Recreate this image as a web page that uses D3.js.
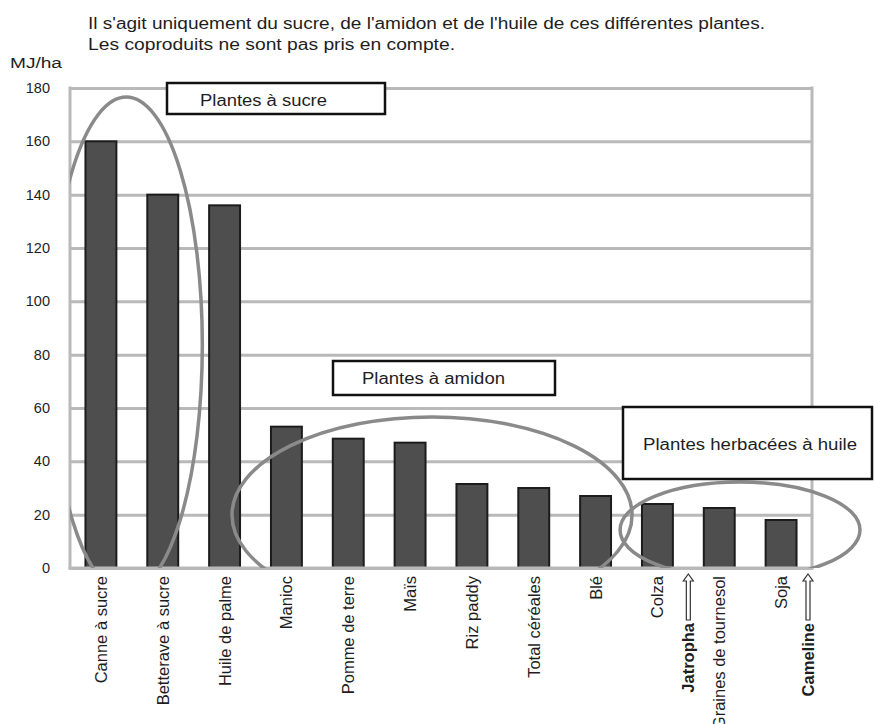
<!DOCTYPE html>
<html>
<head>
<meta charset="utf-8">
<script src="https://cdn.jsdelivr.net/npm/d3@7/dist/d3.min.js"></script>
<style>
  html, body { margin: 0; padding: 0; background: #fff; }
  svg { display: block; font-family: "Liberation Sans", Arial, sans-serif; }
</style>
</head>
<body>
<svg id="chart" width="874" height="724"></svg>
<script>
// ---- data ----
const categories = ["Canne à sucre", "Betterave à sucre", "Huile de palme", "Manioc", "Pomme de terre", "Maïs",
  "Riz paddy", "Total céréales", "Blé", "Colza", "Graines de tournesol", "Soja"];
const values = [160, 140, 136, 53, 48.5, 47, 31.5, 30, 27, 24, 22.5, 18];
const yTicks = [0, 20, 40, 60, 80, 100, 120, 140, 160, 180];
const arrowLabels = ["Jatropha", "Cameline"];
const arrowAfter = ["Colza", "Soja"];
const groupLabels = ["Plantes à sucre", "Plantes à amidon", "Plantes herbacées à huile"];
const titleLines = ["Il s'agit uniquement du sucre, de l'amidon et de l'huile de ces différentes plantes.",
  "Les coproduits ne sont pas pris en compte."];
const unitLabel = "MJ/ha";
// ellipse groups: center (slot index, value), radii (slots, value units)
const groupCenterSlot = [0.41, 5.355, 10.336];
const groupCenterValue = [83.6, 19.9, 14.25];
const groupRadiusSlots = [1.23, 3.235, 1.94];
const groupRadiusValue = [93, 36.75, 18];

// ---- layout ----
const svg = d3.select("#chart");
const plot = { left: 70, right: 812, top: 88, bottom: 568 };

const x = d3.scaleBand().domain(categories).range([plot.left, plot.right]).paddingInner(0.5).paddingOuter(0.25);
const y = d3.scaleLinear().domain([0, 180]).range([plot.bottom, plot.top]);
const step = x.step();
const slotX = d3.scaleLinear().domain([-0.5, categories.length - 0.5]).range([plot.left, plot.right]);

const grid = "#b9b9b9";
const textColor = "#1e1e1e";

// titles
svg.append("g").selectAll("text").data(titleLines).join("text")
  .attr("x", 88).attr("y", (d, i) => 29 + i * 21)
  .attr("font-size", 16).attr("fill", textColor)
  .attr("textLength", (d, i) => [677, 367][i]).attr("lengthAdjust", "spacingAndGlyphs")
  .text(d => d);

svg.append("text").attr("x", 10).attr("y", 68).attr("font-size", 15.5).attr("fill", textColor)
  .attr("textLength", 52).attr("lengthAdjust", "spacingAndGlyphs").text(unitLabel);

// gridlines
const yAxis = d3.axisLeft(y).tickValues(yTicks).tickSize(-(plot.right - plot.left)).tickPadding(20).tickFormat(d3.format("d"));
const gy = svg.append("g").attr("transform", `translate(${plot.left},0)`).call(yAxis);
gy.select(".domain").remove();
gy.selectAll(".tick line").attr("stroke", grid).attr("stroke-width", 3);
gy.selectAll(".tick text").attr("font-size", 14.5).attr("fill", textColor)
  .attr("font-family", "'Liberation Sans', Arial, sans-serif").attr("x", -20);

// plot frame verticals
svg.append("line").attr("x1", plot.left).attr("x2", plot.left).attr("y1", plot.top - 1.5).attr("y2", plot.bottom + 1.5)
  .attr("stroke", grid).attr("stroke-width", 3);
svg.append("line").attr("x1", plot.right).attr("x2", plot.right).attr("y1", plot.top - 1.5).attr("y2", plot.bottom + 1.5)
  .attr("stroke", grid).attr("stroke-width", 3);

// bars
svg.append("g").selectAll("rect").data(categories).join("rect")
  .attr("x", d => x(d))
  .attr("y", (d, i) => y(values[i]))
  .attr("width", x.bandwidth())
  .attr("height", (d, i) => y(0) - y(values[i]))
  .attr("fill", "#4e4e4e")
  .attr("stroke", "#1c1c1c").attr("stroke-width", 2);

// x axis labels
const xAxis = d3.axisBottom(x).tickSize(0).tickPadding(0);
const gx = svg.append("g").attr("transform", `translate(0,${plot.bottom})`).call(xAxis);
gx.select(".domain").remove();
gx.selectAll(".tick text")
  .attr("font-size", 16.5).attr("fill", textColor)
  .attr("font-family", "'Liberation Sans', Arial, sans-serif")
  .attr("text-anchor", "end")
  .attr("transform", "rotate(-90)")
  .attr("x", -8).attr("y", 0).attr("dy", "0.36em");

// arrows for Jatropha / Cameline
const arrowG = svg.append("g");
arrowLabels.forEach((lab, i) => {
  const cx = x(arrowAfter[i]) + x.bandwidth() + (step - x.bandwidth()) / 2 - (i === 1 ? 4 : 0);
  const tip = plot.bottom + 6, headB = tip + 7, bottom = tip + 46;
  const path = d3.path();
  path.moveTo(cx, tip);
  path.lineTo(cx + 5, headB);
  path.lineTo(cx + 2, headB);
  path.lineTo(cx + 2, bottom);
  path.lineTo(cx - 2, bottom);
  path.lineTo(cx - 2, headB);
  path.lineTo(cx - 5, headB);
  path.closePath();
  arrowG.append("path").attr("d", path.toString()).attr("fill", "#fff").attr("stroke", "#333").attr("stroke-width", 1.2);
  arrowG.append("text")
    .attr("transform", `translate(${cx},${bottom + 3}) rotate(-90)`)
    .attr("text-anchor", "end").attr("dy", "0.36em")
    .attr("font-size", 16.5).attr("font-weight", "bold").attr("fill", textColor)
    .text(lab);
});

// bottom axis line
svg.append("line").attr("x1", plot.left - 1.5).attr("x2", plot.right + 1.5).attr("y1", plot.bottom).attr("y2", plot.bottom)
  .attr("stroke", grid).attr("stroke-width", 3);

// ellipses (clipped to plot bottom/left)
svg.append("clipPath").attr("id", "clip").append("rect")
  .attr("x", plot.left).attr("y", 0).attr("width", 874 - plot.left).attr("height", plot.bottom);
svg.append("g").attr("clip-path", "url(#clip)").selectAll("ellipse").data(groupLabels).join("ellipse")
  .attr("cx", (d, i) => slotX(groupCenterSlot[i]))
  .attr("cy", (d, i) => y(groupCenterValue[i]))
  .attr("rx", (d, i) => groupRadiusSlots[i] * step)
  .attr("ry", (d, i) => y(0) - y(groupRadiusValue[i]))
  .attr("fill", "none").attr("stroke", "#8a8a8a").attr("stroke-width", 3.5);

// group label boxes
const boxes = [
  { x: 167, y: 83, w: 218, h: 31, tx: 200, ty: 106, tl: 127 },
  { x: 333, y: 361, w: 222, h: 34, tx: 362, ty: 384, tl: 143 },
  { x: 623, y: 407, w: 249, h: 72, tx: 643, ty: 450, tl: 214 }
];
const bg = svg.append("g").selectAll("g").data(groupLabels).join("g");
bg.append("rect")
  .attr("x", (d, i) => boxes[i].x).attr("y", (d, i) => boxes[i].y)
  .attr("width", (d, i) => boxes[i].w).attr("height", (d, i) => boxes[i].h)
  .attr("fill", "#fff").attr("stroke", "#111").attr("stroke-width", 2.5);
bg.append("text")
  .attr("x", (d, i) => boxes[i].tx).attr("y", (d, i) => boxes[i].ty)
  .attr("font-size", 16).attr("fill", textColor)
  .attr("textLength", (d, i) => boxes[i].tl).attr("lengthAdjust", "spacingAndGlyphs")
  .text(d => d);
</script>
</body>
</html>
